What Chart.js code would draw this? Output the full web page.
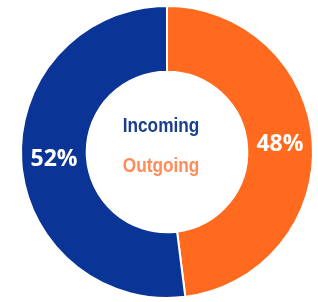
<!DOCTYPE html>
<html>
<head>
<meta charset="utf-8">
<script src="https://cdn.jsdelivr.net/npm/chart.js@4/dist/chart.umd.min.js"></script>
<style>
  html, body { margin: 0; padding: 0; background: #fff; }
  #wrap { position: relative; width: 318px; height: 302px; }
</style>
</head>
<body>
<div id="wrap"><canvas id="chart"></canvas></div>
<script>
const labels = ['Outgoing', 'Incoming'];
const shares = [48, 52];
const sliceColors = ['#ff6a1f', '#0a3597'];
const centerLines = ['Incoming', 'Outgoing'];
const centerColors = ['#1c3f8c', '#ff8b58'];

// percent labels on each slice + the two words in the hole
const ringText = {
  id: 'ringText',
  afterDatasetsDraw(chart) {
    const ctx = chart.ctx;
    const meta = chart.getDatasetMeta(0);
    ctx.save();
    ctx.textAlign = 'center';
    ctx.textBaseline = 'middle';
    ctx.fillStyle = '#ffffff';
    ctx.font = 'bold 23px "Open Sans", sans-serif';
    meta.data.forEach((arc, i) => {
      const p = arc.tooltipPosition();
      ctx.fillText(shares[i] + '%', p.x, p.y);
    });

    // no narrow font installed, so squeeze a normal bold one
    const arc0 = meta.data[0];
    const squeeze = 0.82;
    const cx = (arc0.x - 6) / squeeze;
    const cy = arc0.y;
    ctx.scale(squeeze, 1);
    ctx.textBaseline = 'alphabetic';
    ctx.font = 'bold 21px "Liberation Sans", Arial, sans-serif';
    ctx.fillStyle = centerColors[0];
    ctx.fillText(centerLines[0], cx, cy - 20);
    ctx.fillStyle = centerColors[1];
    ctx.fillText(centerLines[1], cx, cy + 20);
    ctx.restore();
  }
};

new Chart(document.getElementById('chart'), {
  type: 'doughnut',
  data: {
    labels,
    datasets: [{
      data: shares,
      backgroundColor: sliceColors,
      borderColor: '#ffffff',
      borderWidth: 2,
    }],
  },
  options: {
    responsive: true,
    maintainAspectRatio: false,
    animation: false,
    cutout: '55%',
    layout: { padding: { left: 16, right: 0, top: 5, bottom: 3 } },
    plugins: {
      legend: { display: false },
      tooltip: { enabled: false },
    },
  },
  plugins: [ringText],
});
</script>
</body>
</html>
